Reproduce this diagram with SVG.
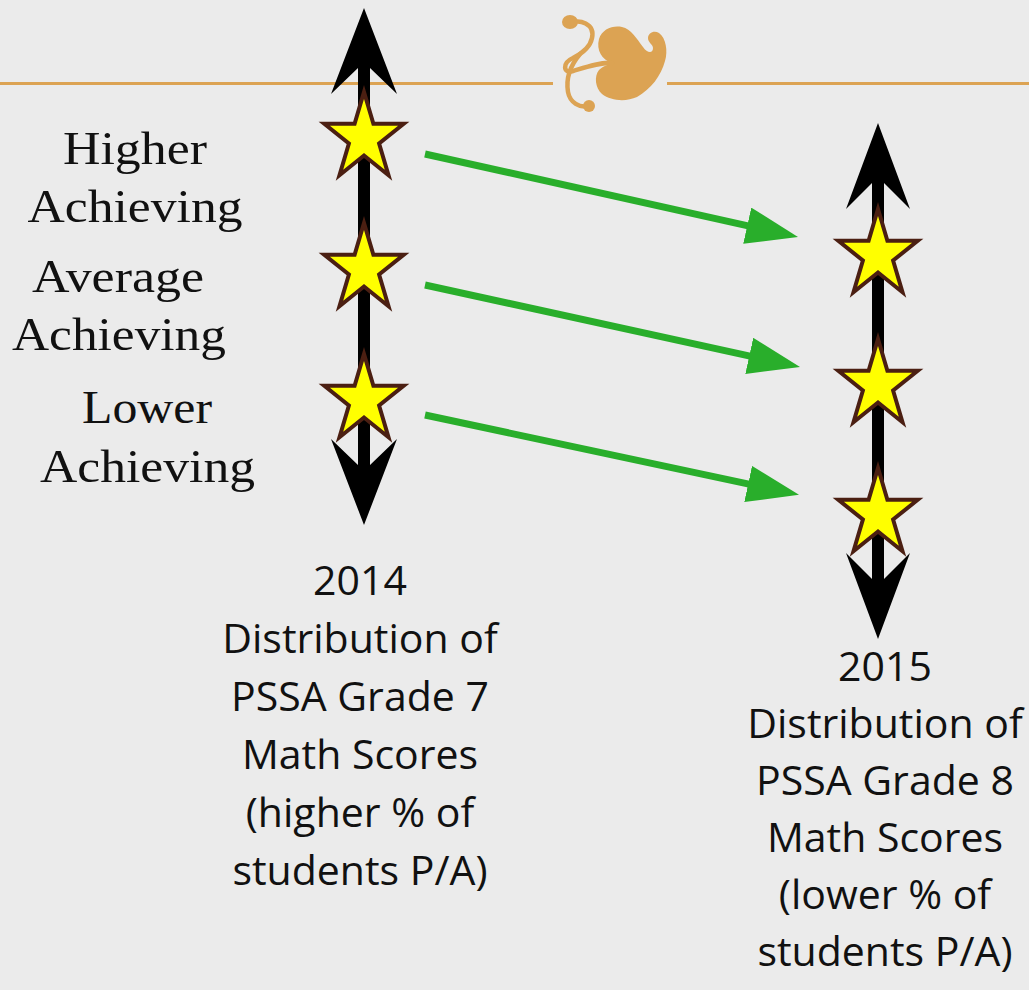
<svg xmlns="http://www.w3.org/2000/svg" width="1029" height="990" viewBox="0 0 1029 990">
<style>
.lbl{font-family:"Liberation Serif","DejaVu Serif",serif;font-size:46px;fill:#111;text-anchor:middle}
.cap{font-family:"Open Sans","Liberation Sans",sans-serif;font-size:41px;fill:#111;text-anchor:middle}
.green{stroke:#29ae2b;stroke-width:7;fill:none}
.orn{fill:#dca353}
.ornline{fill:none;stroke:#dca353;stroke-width:4.5;stroke-linecap:round}
.star{fill:#ffff00;stroke:#4b1f12;stroke-width:4;stroke-linejoin:miter}
</style>
<defs>
<polygon id="starShape" points="0,-46 9.4,-14.2 39.7,-14.2 15.1,5.5 24.5,37.2 0,17.5 -24.5,37.2 -15.1,5.5 -39.7,-14.2 -9.4,-14.2"/>
<marker id="gh" markerUnits="userSpaceOnUse" markerWidth="54" markerHeight="38" refX="2" refY="18.5" orient="auto">
<path d="M0,0 L52,18.5 L0,37 Z" fill="#29ae2b"/>
</marker>
</defs>
<rect width="1029" height="990" fill="#ebebeb"/>
<g id="ornament">
<line x1="0" y1="83.5" x2="553" y2="83.5" stroke="#dca353" stroke-width="3"/>
<line x1="667" y1="83.5" x2="1029" y2="83.5" stroke="#dca353" stroke-width="3"/>
<path class="orn" d="M612,63 C602,60 596,50 599,39 C602,29 613,25 622,27 C631,29 637,39 643,47 C647,53 653,54 653,48 C653,44 648,43 648,38 C648,33 654,30 659,33 C666,38 668,51 665,61 C661,76 651,89 637,97 C626,102 611,101 602,94 C595,88 594,76 599,70 C603,66 608,65 612,63 Z"/>
<path class="ornline" d="M568,24 C580,18 595,24 592,38 C590,48 581,54 573,58 C562,63 563,74 573,71 C586,67 600,62 612,63"/>
<path class="ornline" d="M580,54 C569,67 566,80 568,92 C570,103 580,108 588,106"/>
<ellipse cx="570" cy="22" rx="8" ry="7" class="orn"/>
<circle cx="589" cy="106" r="6" class="orn"/>
</g>
<g id="scale2014">
<rect x="358" y="66" width="12" height="402" fill="#000"/>
<polygon points="364,8 397,94 370,68 358,68 331,94" fill="#000"/>
<polygon points="364,525 397,439 370,465 358,465 331,439" fill="#000"/>
</g>
<g id="scale2015">
<rect x="872" y="181" width="12" height="399" fill="#000"/>
<polygon points="878,123 910,209 884,183 872,183 846,209" fill="#000"/>
<polygon points="878,639 910,553 884,579 872,579 846,553" fill="#000"/>
</g>
<g id="connectors">
<line class="green" x1="425" y1="154" x2="749.2" y2="226.1" marker-end="url(#gh)"/>
<line class="green" x1="425" y1="285" x2="751.2" y2="356.3" marker-end="url(#gh)"/>
<line class="green" x1="425" y1="415" x2="750.1" y2="484.4" marker-end="url(#gh)"/>
</g>
<g id="star-2014-high"><use href="#starShape" class="star" x="364" y="138"/></g>
<g id="star-2014-avg"><use href="#starShape" class="star" x="364" y="269"/></g>
<g id="star-2014-low"><use href="#starShape" class="star" x="364" y="400"/></g>
<g id="star-2015-high"><use href="#starShape" class="star" x="878" y="255"/></g>
<g id="star-2015-avg"><use href="#starShape" class="star" x="878" y="385"/></g>
<g id="star-2015-low"><use href="#starShape" class="star" x="878" y="514"/></g>
<g id="label-higher">
<text class="lbl" x="135" y="164" textLength="144" lengthAdjust="spacingAndGlyphs">Higher</text>
<text class="lbl" x="135" y="222" textLength="215" lengthAdjust="spacingAndGlyphs">Achieving</text>
</g>
<g id="label-average">
<text class="lbl" x="118" y="292" textLength="172" lengthAdjust="spacingAndGlyphs">Average</text>
<text class="lbl" x="119" y="350" textLength="214" lengthAdjust="spacingAndGlyphs">Achieving</text>
</g>
<g id="label-lower">
<text class="lbl" x="147" y="423" textLength="130" lengthAdjust="spacingAndGlyphs">Lower</text>
<text class="lbl" x="147.5" y="482" textLength="215" lengthAdjust="spacingAndGlyphs">Achieving</text>
</g>
<g id="caption-2014">
<text class="cap" x="360" y="595">2014</text>
<text class="cap" x="360" y="653">Distribution of</text>
<text class="cap" x="360" y="711">PSSA Grade 7</text>
<text class="cap" x="360" y="769">Math Scores</text>
<text class="cap" x="360" y="827">(higher % of</text>
<text class="cap" x="360" y="885">students P/A)</text>
</g>
<g id="caption-2015">
<text class="cap" x="885" y="681">2015</text>
<text class="cap" x="885" y="738">Distribution of</text>
<text class="cap" x="885" y="795">PSSA Grade 8</text>
<text class="cap" x="885" y="852">Math Scores</text>
<text class="cap" x="885" y="909">(lower % of</text>
<text class="cap" x="885" y="966">students P/A)</text>
</g>
</svg>
